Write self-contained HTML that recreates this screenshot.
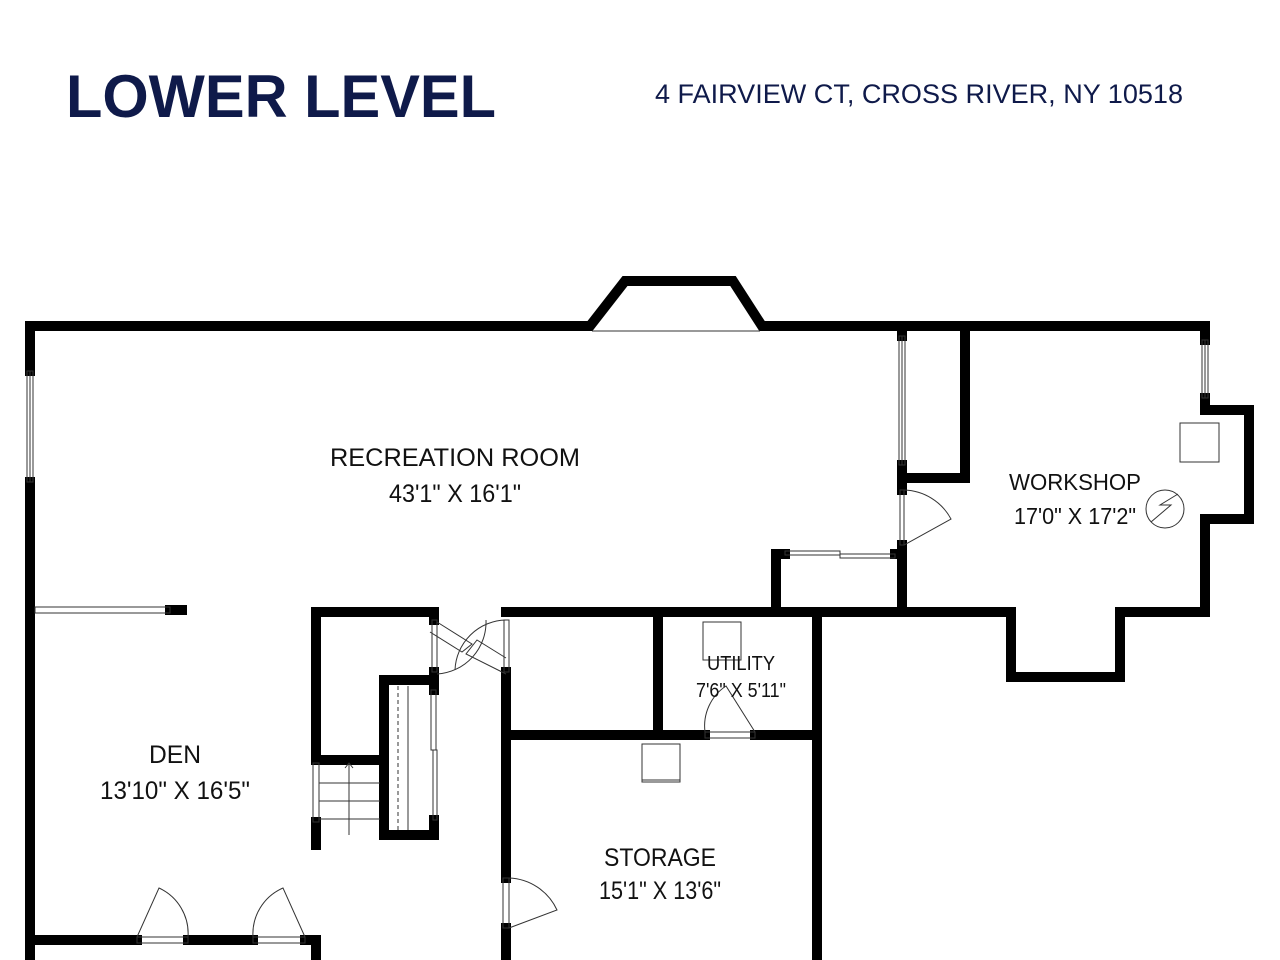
<!DOCTYPE html>
<html><head><meta charset="utf-8"><style>
html,body{margin:0;padding:0;background:#fff;}
svg{display:block;}
.t{font-family:"Liberation Sans",sans-serif;fill:#111;}
</style></head><body>
<svg width="1280" height="960" viewBox="0 0 1280 960" xmlns="http://www.w3.org/2000/svg">
<text x="66" y="117" font-family="Liberation Sans, sans-serif" font-weight="bold" font-size="60" fill="#0f1a4a" textLength="430" lengthAdjust="spacingAndGlyphs">LOWER LEVEL</text>
<text x="655" y="103" font-family="Liberation Sans, sans-serif" font-size="27" fill="#0f1a4a" textLength="528" lengthAdjust="spacingAndGlyphs">4 FAIRVIEW CT, CROSS RIVER, NY 10518</text>

<g stroke="#000" stroke-width="10" fill="none" stroke-linecap="square" stroke-linejoin="miter">
<polyline points="30,371 30,326 590,326 625,281 733,281 762,326 1205,326 1205,340"/>
<line x1="30" y1="482" x2="30" y2="960"/>
<polyline points="1205,398 1205,410 1249,410 1249,519 1205,519 1205,612 1120,612 1120,677 1011,677 1011,612 817,612 817,960"/>
<line x1="902" y1="326" x2="902" y2="336"/>
<line x1="902" y1="465" x2="902" y2="490"/>
<line x1="902" y1="545" x2="902" y2="612"/>
<polyline points="965,326 965,478 902,478"/>
<polyline points="785,554 776,554 776,612"/>
<line x1="895" y1="554" x2="900" y2="554"/>
<line x1="506" y1="612" x2="817" y2="612"/>
<line x1="658" y1="612" x2="658" y2="735"/>
<line x1="506" y1="735" x2="705" y2="735"/>
<line x1="755" y1="735" x2="812" y2="735"/>
<line x1="506" y1="672" x2="506" y2="878"/>
<line x1="506" y1="928" x2="506" y2="960"/>
<polyline points="316,760 316,612 434,612 434,620"/>
<line x1="316" y1="822" x2="316" y2="845"/>
<line x1="316" y1="760" x2="380" y2="760"/>
<polyline points="434,672 434,680 384,680 384,835 434,835 434,820"/>
<line x1="434" y1="680" x2="434" y2="690"/>
<line x1="170" y1="610" x2="182" y2="610"/>
<line x1="30" y1="940" x2="137" y2="940"/>
<line x1="188" y1="940" x2="253" y2="940"/>
<line x1="305" y1="940" x2="316" y2="940"/>
<line x1="316" y1="940" x2="316" y2="960"/>
</g>

<g stroke="#333" stroke-width="1" fill="none">
<rect x="27" y="371" width="6" height="111"/>
<line x1="30" y1="371" x2="30" y2="482"/>
<line x1="592" y1="331" x2="760" y2="331"/>
<rect x="899" y="336" width="6" height="129"/>
<line x1="902" y1="336" x2="902" y2="465"/>
<rect x="1202" y="340" width="6" height="58"/>
<line x1="1205" y1="340" x2="1205" y2="398"/>
<rect x="900" y="490" width="4" height="55"/>
<path d="M904,545 L951,519 A55,55 0 0 0 904,490"/>
<rect x="785" y="551" width="55" height="4"/>
<rect x="840" y="554" width="55" height="4"/>
<rect x="35" y="607" width="135" height="6"/>
<rect x="432" y="620" width="5" height="52"/>
<rect x="504" y="620" width="5" height="52"/>
<path d="M437,622 L472,644 L462,652 L430,632"/>
<path d="M437,674 A52,52 0 0 0 486,620"/>
<path d="M506,674 L466,654 L477,640 L506,658"/>
<path d="M506,620 A52,52 0 0 0 455,670"/>
<rect x="313" y="763" width="6" height="59"/>
<line x1="319" y1="783" x2="380" y2="783"/>
<line x1="319" y1="801" x2="380" y2="801"/>
<line x1="319" y1="819" x2="380" y2="819"/>
<line x1="349" y1="763" x2="349" y2="835"/>
<path d="M345,768 L349,763 L353,768"/>
<line x1="398" y1="686" x2="398" y2="830" stroke-dasharray="4,3"/>
<line x1="408" y1="686" x2="408" y2="830"/>
<rect x="431" y="690" width="5" height="60"/>
<rect x="433" y="750" width="4" height="70"/>
<rect x="703" y="622" width="38" height="38"/>
<rect x="705" y="732" width="50" height="6"/>
<path d="M705,732 A48,48 0 0 1 726,686 L755,732"/>
<rect x="642" y="744" width="38" height="38"/>
<line x1="642" y1="780" x2="680" y2="780"/>
<rect x="503" y="878" width="6" height="50"/>
<path d="M509,878 A55,55 0 0 1 557,910 L509,928"/>
<rect x="137" y="937" width="51" height="6"/>
<path d="M137,937 L159,888 A50,50 0 0 1 188,937"/>
<rect x="253" y="937" width="52" height="6"/>
<path d="M253,937 A50,50 0 0 1 283,888 L305,937"/>
<rect x="1180" y="423" width="39" height="39"/>
<circle cx="1165" cy="509" r="19"/>
<path d="M1151,522 L1171,505 L1160,505 L1178,494"/>
</g>

<g class="t" text-anchor="middle" font-size="25">
<text x="455" y="466" textLength="250" lengthAdjust="spacingAndGlyphs">RECREATION ROOM</text>
<text x="455" y="502" textLength="132" lengthAdjust="spacingAndGlyphs">43'1" X 16'1"</text>
<text x="1075" y="490" font-size="23" textLength="132" lengthAdjust="spacingAndGlyphs">WORKSHOP</text>
<text x="1075" y="524" font-size="23" textLength="122" lengthAdjust="spacingAndGlyphs">17'0" X 17'2"</text>
<text x="175" y="763" textLength="52" lengthAdjust="spacingAndGlyphs">DEN</text>
<text x="175" y="799" textLength="150" lengthAdjust="spacingAndGlyphs">13'10" X 16'5"</text>
<text x="741" y="670" font-size="20" textLength="68" lengthAdjust="spacingAndGlyphs">UTILITY</text>
<text x="741" y="697" font-size="20" textLength="90" lengthAdjust="spacingAndGlyphs">7'6" X 5'11"</text>
<text x="660" y="866" textLength="112" lengthAdjust="spacingAndGlyphs">STORAGE</text>
<text x="660" y="899" textLength="122" lengthAdjust="spacingAndGlyphs">15'1" X 13'6"</text>
</g>
</svg>
</body></html>
